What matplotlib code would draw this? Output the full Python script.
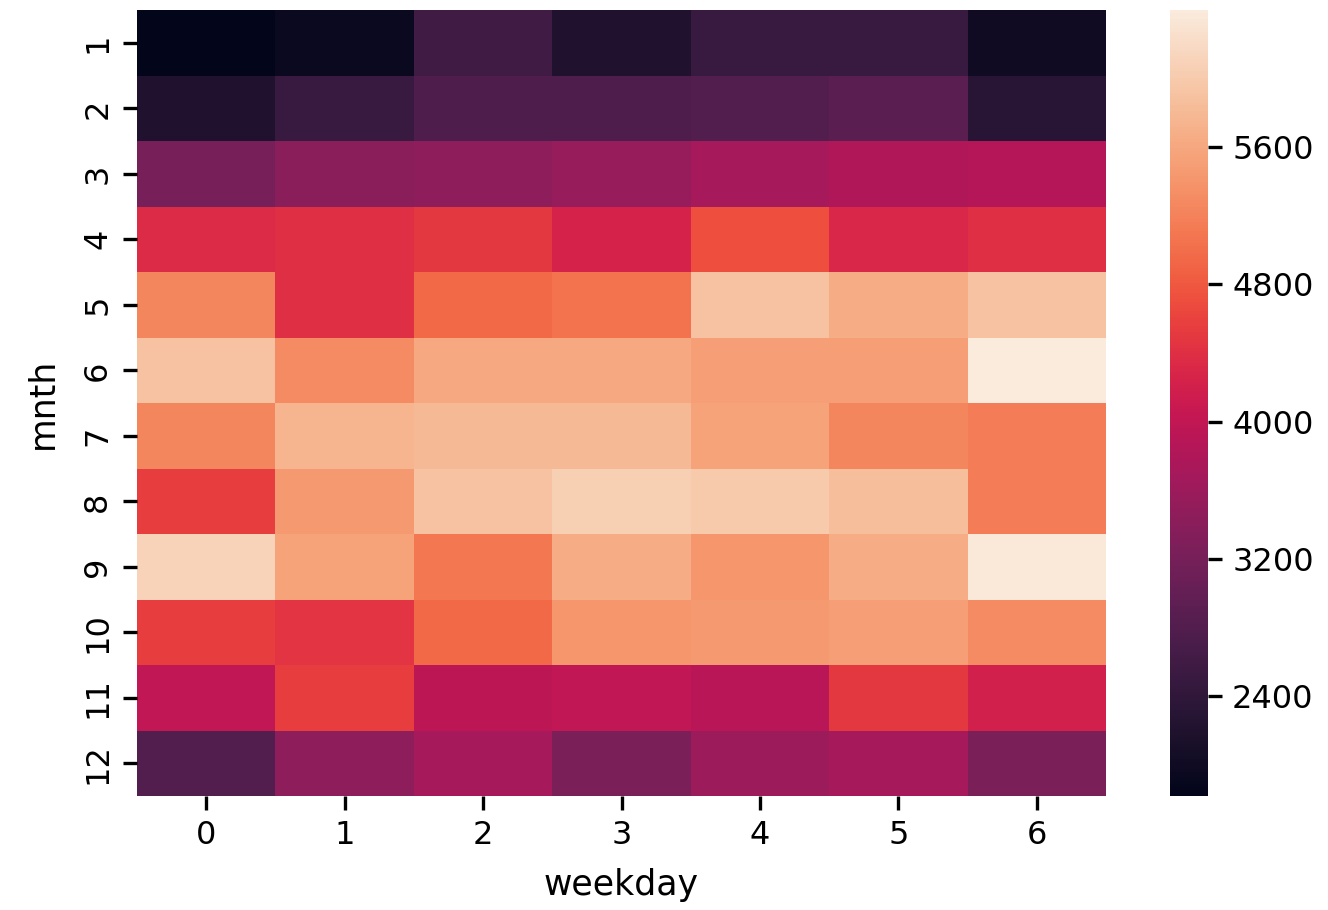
import matplotlib
matplotlib.use("Agg")
import matplotlib.pyplot as plt
import seaborn as sns
import numpy as np
import pandas as pd

months = list(range(1, 13))
weekdays = list(range(0, 7))

row1 = [1816, 1950, 2600, 2200, 2500, 2500, 2000]
row2 = [2200, 2500, 2750, 2750, 2800, 2900, 2300]
row3 = [3200, 3400, 3450, 3550, 3700, 3800, 3850]
row4 = [4350, 4400, 4500, 4250, 4700, 4300, 4400]
row5 = [5250, 4400, 4950, 5050, 5900, 5650, 5900]
row6 = [5900, 5300, 5600, 5600, 5500, 5500, 6400]
row7 = [5250, 5750, 5800, 5800, 5550, 5250, 5150]
row8 = [4550, 5450, 5900, 6050, 6000, 5850, 5150]
row9 = [6100, 5550, 5100, 5650, 5400, 5650, 6350]
row10 = [4550, 4450, 4950, 5400, 5450, 5500, 5300]
row11 = [4000, 4550, 3950, 4000, 3900, 4500, 4200]
row12 = [2800, 3450, 3700, 3250, 3600, 3700, 3250]

data = pd.DataFrame([row1, row2, row3, row4, row5, row6, row7, row8, row9, row10, row11, row12],
                    index=pd.Index(months, name="mnth"),
                    columns=pd.Index(weekdays, name="weekday"))

fig = plt.figure(figsize=(6.64, 4.55), dpi=200)
ax = fig.add_axes([0.103, 0.125, 0.73, 0.864])
cax = fig.add_axes([0.881, 0.125, 0.029, 0.864])
sns.heatmap(data, ax=ax, cbar_ax=cax, cmap="rocket")
cax.set_yticks([2400, 3200, 4000, 4800, 5600])
ax.tick_params(labelsize=11.5, length=5, width=1.2)
cax.tick_params(labelsize=11.5, length=5, width=1.2)
ax.set_xlabel("weekday", fontsize=12.5, labelpad=6)
ax.set_ylabel("mnth", fontsize=12.5, labelpad=8)
fig.savefig("out.png", dpi=200)
